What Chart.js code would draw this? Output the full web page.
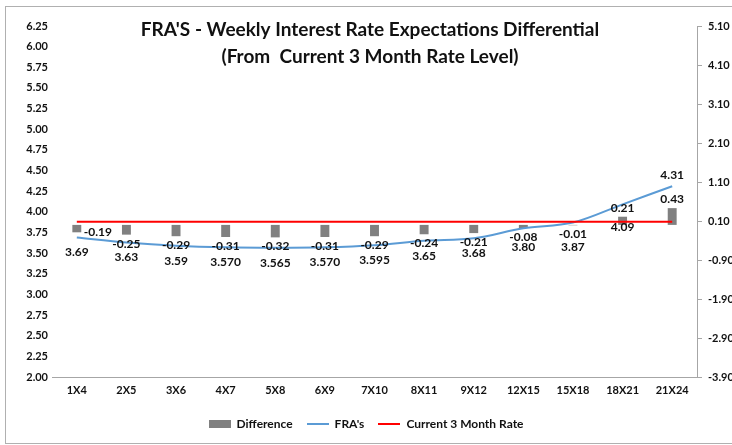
<!DOCTYPE html>
<html>
<head>
<meta charset="utf-8">
<script src="https://cdn.jsdelivr.net/npm/chart.js@4.4.1/dist/chart.umd.min.js"></script>
<style>
  body { margin: 0; background: #fff; }
</style>
</head>
<body>
<canvas id="graficoFRA" width="732" height="445"></canvas>
<script>
// dados
var periodos = ['1X4', '2X5', '3X6', '4X7', '5X8', '6X9', '7X10', '8X11', '9X12', '12X15', '15X18', '18X21', '21X24'];
var diferenca = [-0.19, -0.25, -0.29, -0.31, -0.32, -0.31, -0.29, -0.24, -0.21, -0.08, -0.01, 0.21, 0.43];
var fras = [3.69, 3.63, 3.59, 3.570, 3.565, 3.570, 3.595, 3.65, 3.68, 3.80, 3.87, 4.09, 4.31];
var frasTexto = ['3.69', '3.63', '3.59', '3.570', '3.565', '3.570', '3.595', '3.65', '3.68', '3.80', '3.87', '4.09', '4.31'];
var taxaAtual = [3.88, 3.88, 3.88, 3.88, 3.88, 3.88, 3.88, 3.88, 3.88, 3.88, 3.88, 3.88, 3.88];
var titulo = ["FRA'S - Weekly Interest Rate Expectations Differential", '(From  Current 3 Month Rate Level)'];

var fonte = 'Lato, "Open Sans", sans-serif';
var corTexto = '#111111';

// amostras da legenda
function amostra(w, h, cor) {
  var c = document.createElement('canvas');
  c.width = w;
  c.height = h;
  var g = c.getContext('2d');
  g.fillStyle = cor;
  g.fillRect(0, 0, w, h);
  return c;
}
var amostras = [amostra(22, 8, '#808080'), amostra(22, 2, '#5B9BD5'), amostra(22, 2, '#FF0000')];

// moldura e titulo
var moldura = {
  id: 'moldura',
  beforeDraw: function (chart) {
    var ctx = chart.ctx;
    ctx.save();
    ctx.fillStyle = '#ffffff';
    ctx.fillRect(0, 0, chart.width, chart.height);
    ctx.strokeStyle = '#b0b0b0';
    ctx.lineWidth = 1;
    ctx.strokeRect(5.5, 6.5, 800, 437);
    ctx.restore();
  },
  afterDraw: function (chart) {
    var ctx = chart.ctx;
    ctx.save();
    ctx.font = 'bold 19px ' + fonte;
    ctx.fillStyle = corTexto;
    ctx.textAlign = 'center';
    ctx.textBaseline = 'middle';
    ctx.fillText(titulo[0], 370, 30);
    ctx.fillText(titulo[1], 370, 57);
    ctx.restore();
  }
};

// rotulos dos valores
var rotulos = {
  id: 'rotulos',
  afterDatasetsDraw: function (chart) {
    var ctx = chart.ctx;
    var yAtual = chart.scales.y.getPixelForValue(taxaAtual[0]);
    ctx.save();
    ctx.font = 'bold 12px ' + fonte;
    ctx.fillStyle = corTexto;
    ctx.textAlign = 'center';
    ctx.textBaseline = 'middle';

    var barras = chart.getDatasetMeta(0).data;
    for (i = 0; i < barras.length; i++) {
      var x = barras[i].x, y;
      if (i == 0) {
        x = barras[i].x + 21;
        y = barras[i].y;
      } else if (diferenca[i] < 0) {
        y = barras[i].y + 9;
      } else {
        y = barras[i].y - 9;
      }
      ctx.fillText(diferenca[i].toFixed(2), x, y);
    }

    // FRA abaixo do ponto (acima da taxa atual: logo abaixo da linha vermelha)
    var pontos = chart.getDatasetMeta(1).data;
    for (i = 0; i < pontos.length; i++) {
      var yp;
      if (i == pontos.length - 1) {
        yp = pontos[i].y - 11;
      } else if (fras[i] > taxaAtual[i]) {
        yp = yAtual + 5;
      } else {
        yp = Math.max(pontos[i].y + 15, yAtual + 25);
      }
      ctx.fillText(frasTexto[i], pontos[i].x, yp);
    }
    ctx.restore();
  }
};

var ctx = document.getElementById('graficoFRA').getContext('2d');
var chart = new Chart(ctx, {
  data: {
    labels: periodos,
    datasets: [
      {
        type: 'bar',
        label: 'Difference',
        data: diferenca,
        yAxisID: 'y1',
        backgroundColor: '#808080',
        categoryPercentage: 0.2,
        barPercentage: 0.9,
        order: 3
      },
      {
        type: 'line',
        label: "FRA's",
        data: fras,
        yAxisID: 'y',
        borderColor: '#5B9BD5',
        borderWidth: 2,
        pointRadius: 0,
        tension: 0.4,
        cubicInterpolationMode: 'monotone',
        order: 2
      },
      {
        type: 'line',
        label: 'Current 3 Month Rate',
        data: taxaAtual,
        yAxisID: 'y',
        borderColor: '#FF0000',
        borderWidth: 2,
        pointRadius: 0,
        order: 1
      }
    ]
  },
  options: {
    responsive: false,
    animation: false,
    layout: {
      padding: { top: 26, right: 0, bottom: 5, left: 0 }
    },
    scales: {
      x: {
        offset: true,
        grid: { display: false, drawTicks: false },
        border: { display: true, color: '#a6a6a6', width: 1 },
        ticks: { color: corTexto, font: { family: fonte, size: 11, weight: 'bold' }, padding: 7, maxRotation: 0 },
        afterFit: function (s) { s.height = 27; }
      },
      y: {
        position: 'left',
        min: 2,
        max: 6.25,
        grid: { display: false, drawTicks: false },
        border: { display: false },
        ticks: {
          stepSize: 0.25,
          padding: 4,
          color: corTexto,
          font: { family: fonte, size: 11, weight: 'bold' },
          callback: function (v) { return v.toFixed(2); }
        },
        afterFit: function (s) { s.width = 52; }
      },
      y1: {
        position: 'right',
        min: -3.9,
        max: 5.1,
        grid: { display: true, drawOnChartArea: false, drawTicks: true, tickLength: 5, color: '#a6a6a6' },
        border: { display: true, color: '#a6a6a6', width: 1 },
        ticks: {
          padding: 6,
          color: corTexto,
          font: { family: fonte, size: 11, weight: 'bold' },
          callback: function (v) { return v.toFixed(2); }
        },
        afterBuildTicks: function (s) {
          var t = [];
          for (i = 0; i < 10; i++) {
            t.push({ value: Math.round((-3.9 + i) * 100) / 100 });
          }
          s.ticks = t;
        },
        afterFit: function (s) { s.width = 35; }
      }
    },
    plugins: {
      legend: {
        position: 'bottom',
        labels: {
          usePointStyle: true,
          pointStyleWidth: 22,
          boxHeight: 8,
          padding: 14,
          color: corTexto,
          font: { family: fonte, size: 12, weight: 'bold' },
          generateLabels: function (chart) {
            return chart.data.datasets.map(function (ds, i) {
              return {
                text: ds.label,
                pointStyle: amostras[i],
                datasetIndex: i,
                hidden: false,
                fontColor: corTexto,
                fillStyle: 'transparent',
                strokeStyle: 'transparent',
                lineWidth: 0
              };
            });
          }
        }
      },
      tooltip: { enabled: false }
    }
  },
  plugins: [moldura, rotulos]
});
</script>
</body>
</html>
